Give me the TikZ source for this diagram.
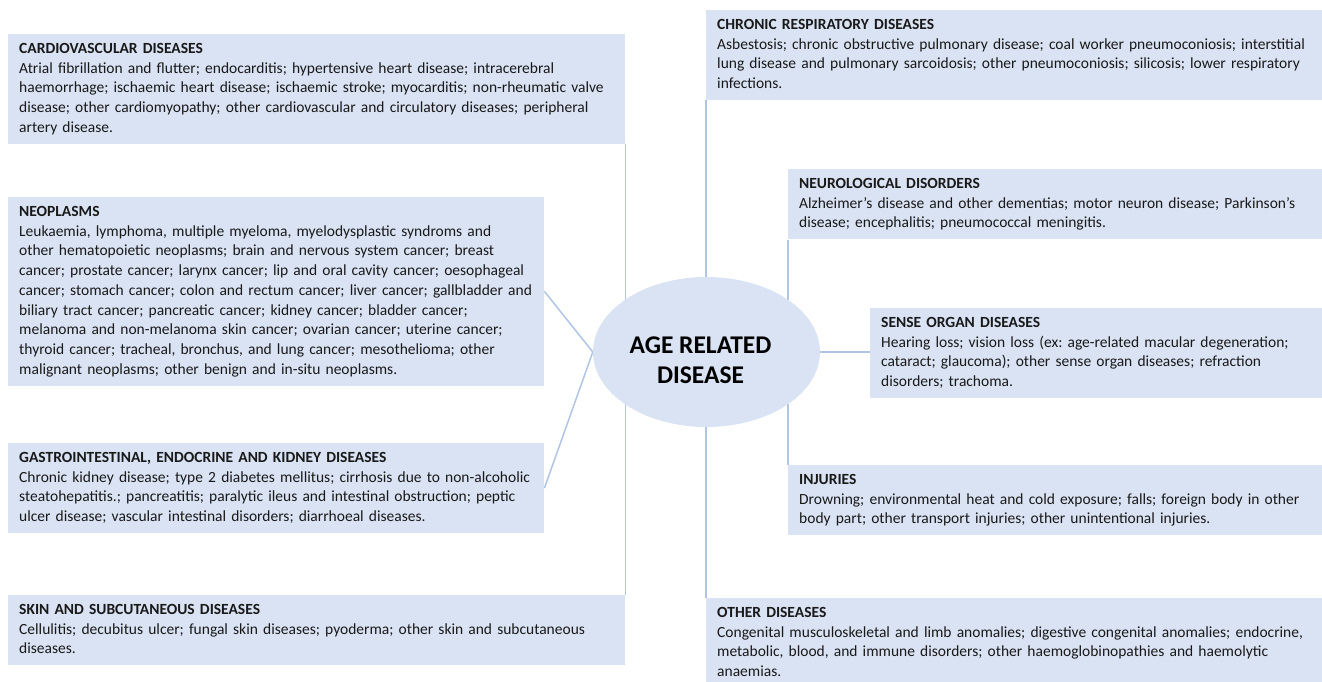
\documentclass[tikz,border=0pt]{standalone}
\usepackage{fontspec}
\setmainfont{Carlito}
\usepackage{tikz}
\usetikzlibrary{shapes.geometric,backgrounds}
\definecolor{ardfill}{RGB}{218,227,243}
\definecolor{ardline}{RGB}{176,196,230}
\definecolor{ardtext}{RGB}{25,25,25}
\newcommand{\boxstrut}{\rule[-5.9pt]{0pt}{19.7pt}}
\frenchspacing

\begin{document}
\begin{tikzpicture}[
  x=1pt, y=-1pt,
  box/.style={fill=ardfill, anchor=north west, align=left, inner xsep=11pt, inner ysep=5.5pt, text width=#1, text=ardtext, font=\fontsize{15.5}{19.7}\selectfont},
  hub/.style={ellipse, fill=ardfill, minimum width=227pt, minimum height=150pt, inner sep=0pt},
  hubtext/.style={align=center, text=black, font=\fontsize{25.5}{30}\selectfont\bfseries},
  link/.style={draw=ardline, line width=1.5pt}
]
  \useasboundingbox (0,0) rectangle (1322,682);

  % centre
  \node[hub] (age) at (706.5,352) {};
  \node[hubtext] (agetext) at ([xshift=-6pt,yshift=-8pt]age.center) {AGE RELATED\\DISEASE};

  % left column
  \node[box=595pt] (cardio) at (8,34) {\boxstrut\textbf{CARDIOVASCULAR DISEASES}\\
    Atrial fibrillation and flutter; endocarditis; hypertensive heart disease; intracerebral\\
    haemorrhage; ischaemic heart disease; ischaemic stroke; myocarditis; non-rheumatic valve\\
    disease; other cardiomyopathy; other cardiovascular and circulatory diseases; peripheral\\
    artery disease.\boxstrut};
  \node[box=514pt] (neo) at (8,197) {\boxstrut\textbf{NEOPLASMS}\\
    Leukaemia, lymphoma, multiple myeloma, myelodysplastic syndroms and\\
    other hematopoietic neoplasms; brain and nervous system cancer; breast\\
    cancer; prostate cancer; larynx cancer; lip and oral cavity cancer; oesophageal\\
    cancer; stomach cancer; colon and rectum cancer; liver cancer; gallbladder and\\
    biliary tract cancer; pancreatic cancer; kidney cancer; bladder cancer;\\
    melanoma and non-melanoma skin cancer; ovarian cancer; uterine cancer;\\
    thyroid cancer; tracheal, bronchus, and lung cancer; mesothelioma; other\\
    malignant neoplasms; other benign and in-situ neoplasms.\boxstrut};
  \node[box=514pt] (gastro) at (8,443) {\boxstrut\textbf{GASTROINTESTINAL, ENDOCRINE AND KIDNEY DISEASES}\\
    Chronic kidney disease; type 2 diabetes mellitus; cirrhosis due to non-alcoholic\\
    steatohepatitis.; pancreatitis; paralytic ileus and intestinal obstruction; peptic\\
    ulcer disease; vascular intestinal disorders; diarrhoeal diseases.\boxstrut};
  \node[box=595pt] (skin) at (8,595) {\boxstrut\textbf{SKIN AND SUBCUTANEOUS DISEASES}\\
    Cellulitis; decubitus ulcer; fungal skin diseases; pyoderma; other skin and subcutaneous\\
    diseases.\boxstrut};

  % right column
  \node[box=594pt] (chronic) at (706,10) {\boxstrut\textbf{CHRONIC RESPIRATORY DISEASES}\\
    Asbestosis; chronic obstructive pulmonary disease; coal worker pneumoconiosis; interstitial\\
    lung disease and pulmonary sarcoidosis; other pneumoconiosis; silicosis; lower respiratory\\
    infections.\boxstrut};
  \node[box=512pt] (neuro) at (788,169) {\boxstrut\textbf{NEUROLOGICAL DISORDERS}\\
    Alzheimer’s disease and other dementias; motor neuron disease; Parkinson’s\\
    disease; encephalitis; pneumococcal meningitis.\boxstrut};
  \node[box=430pt] (sense) at (870,308) {\boxstrut\textbf{SENSE ORGAN DISEASES}\\
    Hearing loss; vision loss (ex: age-related macular degeneration;\\
    cataract; glaucoma); other sense organ diseases; refraction\\
    disorders; trachoma.\boxstrut};
  \node[box=512pt] (injuries) at (788,465) {\boxstrut\textbf{INJURIES}\\
    Drowning; environmental heat and cold exposure; falls; foreign body in other\\
    body part; other transport injuries; other unintentional injuries.\boxstrut};
  \node[box=594pt] (other) at (706,598) {\boxstrut\textbf{OTHER DISEASES}\\
    Congenital musculoskeletal and limb anomalies; digestive congenital anomalies; endocrine,\\
    metabolic, blood, and immune disorders; other haemoglobinopathies and haemolytic\\
    anaemias.\boxstrut};

  % connectors (behind the ellipse)
  \begin{scope}[on background layer]
    \draw[link] (cardio.south east) -- (cardio.south east |- age.center);
    \draw[link] (neo.east) -- (age.west);
    \draw[link] (gastro.east) -- (age.west);
    \draw[link] (skin.north east) -- (skin.north east |- age.center);
    \draw[link] (chronic.south west) -- (chronic.south west |- age.center);
    \draw[link] (neuro.south west) -- (neuro.south west |- age.center);
    \draw[link] (age.east) -- (age.east -| sense.west);
    \draw[link] (injuries.north west) -- (injuries.north west |- age.center);
    \draw[link] (other.north west) -- (other.north west |- age.center);
  \end{scope}
\end{tikzpicture}
\end{document}
